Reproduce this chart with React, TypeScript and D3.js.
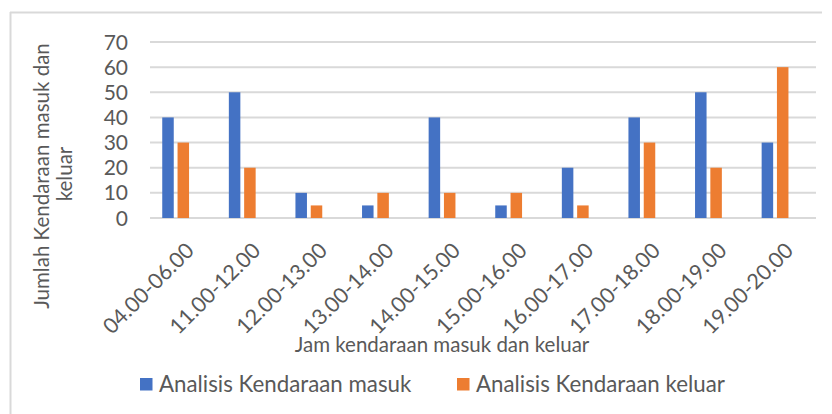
import React from "react";
import * as d3 from "d3";

const categories = [
  "04.00-06.00",
  "11.00-12.00",
  "12.00-13.00",
  "13.00-14.00",
  "14.00-15.00",
  "15.00-16.00",
  "16.00-17.00",
  "17.00-18.00",
  "18.00-19.00",
  "19.00-20.00",
];
const masuk = [40, 50, 10, 5, 40, 5, 20, 40, 50, 30];
const keluar = [30, 20, 5, 10, 10, 10, 5, 30, 20, 60];
const seriesNames = ["Analisis Kendaraan masuk", "Analisis Kendaraan keluar"];
const yTicks = [0, 10, 20, 30, 40, 50, 60, 70];

const W = 832;
const H = 414;
const FONT = "Lato, 'Open Sans', sans-serif";
const TEXT = "#595959";
const GRID = "#d9d9d9";
const COLORS = ["#4472C4", "#ED7D31"];

export default function App() {
  const x = d3.scaleBand<string>().domain(categories).range([150, 816]).padding(0);
  // Excel clustered columns: three slots per category, the third one empty
  const slots = ["masuk", "keluar", "empty"];
  const xs = d3
    .scaleBand<string>()
    .domain(slots)
    .range([0, x.bandwidth()])
    .paddingInner(0.248)
    .paddingOuter(0.8);
  const y = d3.scaleLinear().domain([0, 70]).range([218, 42]);
  const series = [masuk, keluar];

  return (
    <svg
      width={W}
      height={H}
      style={{ position: "absolute", left: 0, top: 0, background: "#fff" }}
      fontFamily={FONT}
    >
      {/* chart border */}
      <line x1={10.5} x2={10.5} y1={12} y2={H} stroke={GRID} strokeWidth={2} />
      <line x1={10} x2={822} y1={12.5} y2={12.5} stroke={GRID} strokeWidth={2} />

      {/* gridlines */}
      {yTicks.map((t) => (
        <line
          key={t}
          x1={x.range()[0]}
          x2={x.range()[1]}
          y1={y(t)}
          y2={y(t)}
          stroke={GRID}
          strokeWidth={2}
        />
      ))}

      {/* y ticks */}
      {yTicks.map((t) => (
        <text
          key={"yt" + t}
          x={128}
          y={y(t)}
          dy="0.36em"
          textAnchor="end"
          fontSize={21}
          fill={TEXT}
        >
          {t}
        </text>
      ))}

      {/* bars */}
      {series.map((vals, si) =>
        vals.map((v, i) => (
          <rect
            key={si + "-" + i}
            x={(x(categories[i]) ?? 0) + (xs(slots[si]) ?? 0)}
            y={y(v)}
            width={xs.bandwidth()}
            height={y(0) - y(v)}
            fill={COLORS[si]}
          />
        ))
      )}

      {/* x labels */}
      {categories.map((c) => {
        const cx = (x(c) ?? 0) + x.bandwidth() / 2 + 12;
        const cy = 252;
        return (
          <text
            key={c}
            x={cx}
            y={cy}
            textAnchor="end"
            fontSize={21.5}
            fill={TEXT}
            transform={`rotate(-45 ${cx} ${cy})`}
          >
            {c}
          </text>
        );
      })}

      {/* x title */}
      <text x={442} y={352} textAnchor="middle" fontSize={20.5} fill={TEXT}>
        Jam kendaraan masuk dan keluar
      </text>

      {/* y title */}
      <text
        transform="translate(49 176) rotate(-90)"
        textAnchor="middle"
        fontSize={20.5}
        fill={TEXT}
      >
        Jumlah Kendaraan masuk dan
      </text>
      <text
        transform="translate(72 174) rotate(-90)"
        textAnchor="middle"
        fontSize={20.5}
        fill={TEXT}
      >
        keluar
      </text>

      {/* legend */}
      {seriesNames.map((n, i) => {
        const lx = [140, 457][i];
        return (
          <g key={n}>
            <rect x={lx} y={378} width={12.5} height={12.5} fill={COLORS[i]} />
            <text x={lx + 19} y={392} fontSize={22.3} fill={TEXT}>
              {n}
            </text>
          </g>
        );
      })}
    </svg>
  );
}
